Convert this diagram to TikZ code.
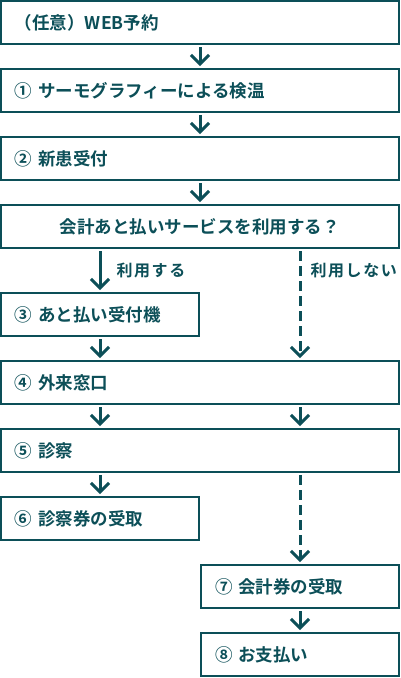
\documentclass[tikz,border=0pt]{standalone}
\usepackage{fontspec}
\setmainfont{Noto Sans CJK JP}[BoldFont={* Bold}]
\newfontfamily\lbfont{Noto Sans CJK JP}[LetterSpace=10, BoldFont={* Bold}]
\usepackage{xcolor}
\usetikzlibrary{arrows.meta, positioning}
\definecolor{flowteal}{HTML}{0C4F58}

\begin{document}
\begin{tikzpicture}[
    x=1pt, y=-1pt,
    wide/.style={rectangle, draw=flowteal, line width=2pt, text width=370pt, minimum height=43pt, align=left, inner xsep=14pt, inner ysep=0pt, font=\fontsize{17.5}{20}\selectfont\bfseries, text=flowteal},
    half/.style={wide, text width=170pt},
    ar/.style={-{Straight Barb[length=9pt, width=18pt]}, line width=3pt, flowteal, shorten <=2pt, shorten >=2pt},
    dar/.style={ar, dash pattern=on 10pt off 5pt},
    lb/.style={font=\lbfont\fontsize{16}{18}\selectfont\bfseries, text=flowteal, inner sep=0pt},
]
    \useasboundingbox (0,0) rectangle (400,678);
    % Column 1: common steps
    \node [wide, anchor=north west] (web) at (0,0) {（任意）WEB予約};
    \node [wide, below=23pt of web] (thermo) {① サーモグラフィーによる検温};
    \node [wide, below=23pt of thermo] (newpt) {② 新患受付};
    \node [wide, below=23pt of newpt, align=center] (ask) {会計あと払いサービスを利用する？};
    % Branch
    \node [half, below=43pt of ask, xshift=-100pt] (kiosk) {③ あと払い受付機};
    \node [wide, below=23pt of kiosk, xshift=100pt] (desk) {④ 外来窓口};
    \node [wide, below=23pt of desk] (exam) {⑤ 診察};
    \node [half, below=23pt of exam, xshift=-100pt] (ticket) {⑥ 診察券の受取};
    \node [half, below=91pt of exam, xshift=100pt] (bill) {⑦ 会計券の受取};
    \node [half, below=23pt of bill] (pay) {⑧ お支払い};
    \coordinate (rcol) at (300,0);
    % Arrows
    \draw [ar] (web) -- (thermo);
    \draw [ar] (thermo) -- (newpt);
    \draw [ar] (newpt) -- (ask);
    \draw [ar] (ask.south -| kiosk) -- node[lb, right=15pt] {利用する} (kiosk);
    \draw [dar] (ask.south -| rcol) -- node[lb, pos=0.19, right=9pt] {利用しない} (desk.north -| rcol);
    \draw [ar] (kiosk) -- (kiosk |- desk.north);
    \draw [ar] (desk.south -| kiosk) -- (exam.north -| kiosk);
    \draw [ar] (desk.south -| rcol) -- (exam.north -| rcol);
    \draw [ar] (exam.south -| ticket) -- (ticket);
    \draw [dar] (exam.south -| bill) -- (bill);
    \draw [ar] (bill) -- (pay);
\end{tikzpicture}
\end{document}
